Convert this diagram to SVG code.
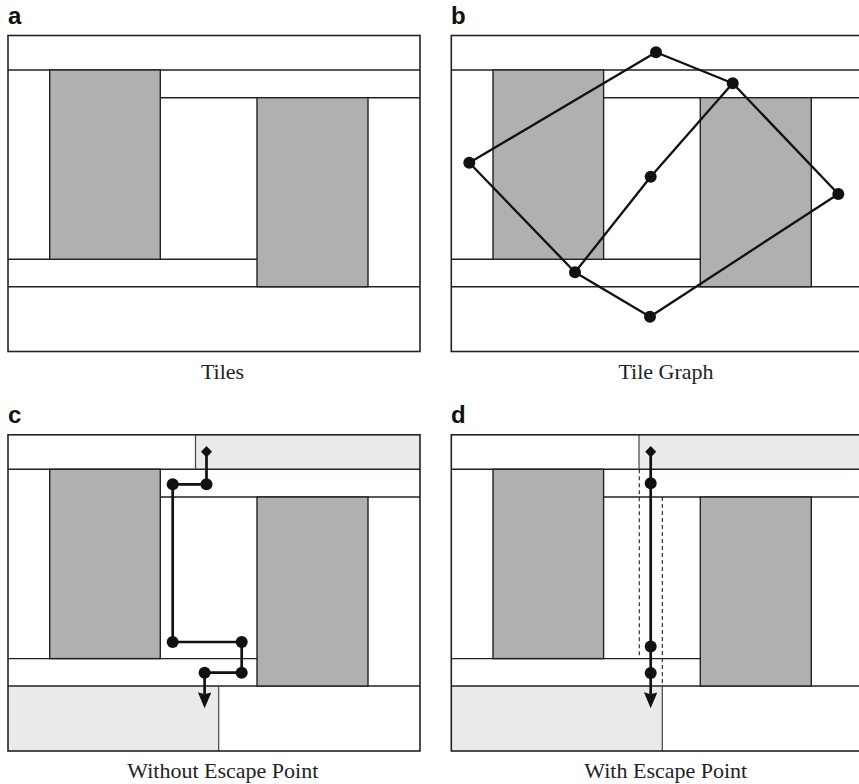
<svg xmlns="http://www.w3.org/2000/svg" width="859" height="784" viewBox="0 0 859 784">
  <style>
    .bg { fill: #ffffff; }
    .outer { fill: none; stroke: #222; stroke-width: 1.6; }
    .ln { stroke: #222; stroke-width: 1.4; fill: none; }
    .blk { fill: #b0b0b0; stroke: #222; stroke-width: 1.4; }
    .esc { fill: #e9eaea; stroke: none; }
    .div { stroke: #444; stroke-width: 1.2; }
    .dash { stroke: #222; stroke-width: 1.1; stroke-dasharray: 4 3; fill: none; }
    .edge { stroke: #111; stroke-width: 2.3; fill: none; stroke-linejoin: round; }
    .path { stroke: #111; stroke-width: 2.7; fill: none; stroke-linejoin: round; }
    .dot { fill: #111; }
    .lbl { font-family: "Liberation Sans", Arial, sans-serif; font-weight: bold; font-size: 24px; fill: #111; }
    .cap { font-family: "Liberation Serif", "Times New Roman", serif; font-size: 22px; fill: #222; text-anchor: middle; }
  </style>
  <defs>
    <marker id="arrow" markerUnits="userSpaceOnUse" markerWidth="18" markerHeight="14" refX="2" refY="6.75" orient="auto">
      <path d="M0,0 L16,6.75 L0,13.5 L2,6.75 z" fill="#111"/>
    </marker>
    <g id="tiles">
      <line class="ln" x1="8" y1="70" x2="420" y2="70"/>
      <line class="ln" x1="160.3" y1="97.7" x2="420" y2="97.7"/>
      <line class="ln" x1="8" y1="259.3" x2="257" y2="259.3"/>
      <line class="ln" x1="8" y1="286.7" x2="420" y2="286.7"/>
      <rect class="blk" x="49.7" y="70" width="110.6" height="189.3"/>
      <rect class="blk" x="257" y="97.7" width="111" height="189"/>
    </g>
  </defs>

  <rect class="bg" x="0" y="0" width="859" height="784"/>

  <!-- Panel a -->
  <g id="panel-a">
    <text class="lbl" x="8" y="23.5">a</text>
    <use href="#tiles"/>
    <rect class="outer" x="8" y="35.5" width="412" height="316"/>
    <text class="cap" x="222.5" y="379">Tiles</text>
  </g>

  <!-- Panel b -->
  <g id="panel-b">
    <text class="lbl" x="451" y="23.5">b</text>
    <g transform="translate(443.3,0)">
      <use href="#tiles"/>
      <rect class="outer" x="8" y="35.5" width="420" height="316"/>
    </g>
    <text class="cap" x="666" y="379">Tile Graph</text>
  </g>

  <!-- Panel c -->
  <g id="panel-c">
    <text class="lbl" x="8" y="422.5">c</text>
    <rect class="esc" x="195.5" y="434.8" width="224.5" height="34.5"/>
    <rect class="esc" x="8" y="686" width="210.7" height="65"/>
    <g transform="translate(0,399.3)">
      <use href="#tiles"/>
    </g>
    <line class="div" x1="195.5" y1="434.8" x2="195.5" y2="469.3"/>
    <line class="div" x1="218.7" y1="686" x2="218.7" y2="751"/>
    <rect class="outer" x="8" y="434.8" width="412" height="316.2"/>
    <text class="cap" x="222.8" y="778">Without Escape Point</text>
  </g>

  <!-- Panel d -->
  <g id="panel-d">
    <text class="lbl" x="451" y="422.5">d</text>
    <rect class="esc" x="639" y="434.8" width="224" height="34.5"/>
    <rect class="esc" x="451.3" y="686" width="211" height="65"/>
    <g transform="translate(443.3,399.3)">
      <use href="#tiles"/>
    </g>
    <line class="div" x1="639" y1="434.8" x2="639" y2="469.3"/>
    <line class="div" x1="662.3" y1="686" x2="662.3" y2="751"/>
    <line class="dash" x1="639.3" y1="469.3" x2="639.3" y2="658.7"/>
    <line class="dash" x1="662.3" y1="497" x2="662.3" y2="686"/>
    <rect class="outer" x="451.3" y="434.8" width="420" height="316.2"/>
    <text class="cap" x="665.8" y="778">With Escape Point</text>
  </g>

  <!-- Connectors -->
  <g id="connectors">
    <!-- tile graph edges -->
    <line class="edge" x1="469.3" y1="162.7" x2="656" y2="52.3"/>
    <line class="edge" x1="656" y1="52.3" x2="732.7" y2="83.3"/>
    <line class="edge" x1="732.7" y1="83.3" x2="650.7" y2="176.7"/>
    <line class="edge" x1="650.7" y1="176.7" x2="575" y2="272.3"/>
    <line class="edge" x1="732.7" y1="83.3" x2="838.3" y2="194"/>
    <line class="edge" x1="469.3" y1="162.7" x2="575" y2="272.3"/>
    <line class="edge" x1="575" y1="272.3" x2="650" y2="316.7"/>
    <line class="edge" x1="650" y1="316.7" x2="838.3" y2="194"/>
    <!-- route without escape point -->
    <polyline class="path" points="206.5,451.7 206.5,484.3 172.7,484.3 172.7,642 241.7,642 241.7,672.7 204.6,672.7 204.6,694.3" marker-end="url(#arrow)"/>
    <!-- route with escape point -->
    <polyline class="path" points="650.7,451.7 650.7,694.3" marker-end="url(#arrow)"/>
  </g>

  <!-- Graph nodes (panel b) -->
  <g id="graph-nodes">
    <circle class="dot" cx="656" cy="52.3" r="6"/>
    <circle class="dot" cx="732.7" cy="83.3" r="6"/>
    <circle class="dot" cx="469.3" cy="162.7" r="6"/>
    <circle class="dot" cx="650.7" cy="176.7" r="6"/>
    <circle class="dot" cx="838.3" cy="194" r="6"/>
    <circle class="dot" cx="575" cy="272.3" r="6"/>
    <circle class="dot" cx="650" cy="316.7" r="6"/>
  </g>

  <!-- Route nodes (panel c) -->
  <g id="route-nodes-c">
    <polygon class="dot" points="206.5,446 212,451.7 206.5,457.4 201,451.7"/>
    <circle class="dot" cx="206.5" cy="484.3" r="6"/>
    <circle class="dot" cx="172.7" cy="484.3" r="6"/>
    <circle class="dot" cx="172.7" cy="642" r="6"/>
    <circle class="dot" cx="241.7" cy="642" r="6"/>
    <circle class="dot" cx="241.7" cy="672.7" r="6"/>
    <circle class="dot" cx="204.6" cy="672.7" r="6"/>
  </g>

  <!-- Route nodes (panel d) -->
  <g id="route-nodes-d">
    <polygon class="dot" points="650.7,446 656.2,451.7 650.7,457.4 645.2,451.7"/>
    <circle class="dot" cx="650.7" cy="483.3" r="6"/>
    <circle class="dot" cx="650.7" cy="646.5" r="6"/>
    <circle class="dot" cx="650.7" cy="673" r="6"/>
  </g>
</svg>
